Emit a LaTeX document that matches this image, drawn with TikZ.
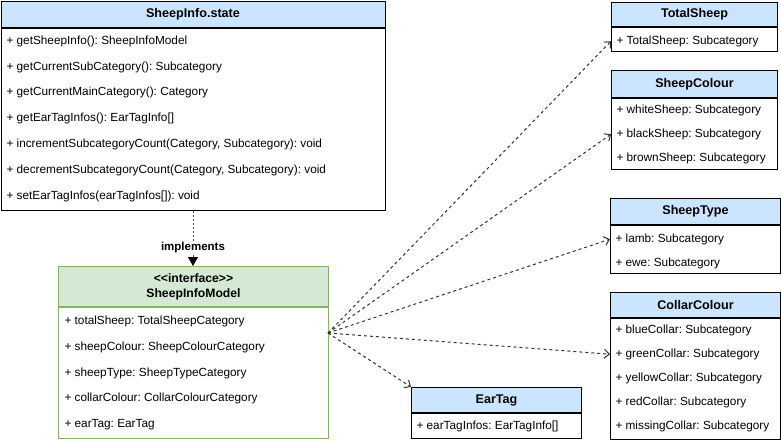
\documentclass[tikz,border=0pt]{standalone}
\usepackage{fontspec}
\setmainfont{Liberation Sans}
\usetikzlibrary{arrows.meta}
\definecolor{headblue}{HTML}{CCE5FF}
\definecolor{headgreen}{HTML}{D5E8D4}
\definecolor{edgegreen}{HTML}{82B366}
\tikzset{
  head/.style={draw, fill=headblue, anchor=north west, inner sep=0pt, font=\bfseries\fontsize{12.6}{15}\selectfont},
  body/.style={draw, anchor=north west, inner sep=0pt},
  row/.style={anchor=west, inner sep=0pt, yshift=-1.2pt, font=\frenchspacing\fontsize{11.8}{14}\selectfont},
  dep/.style={draw=black!80, dash pattern=on 3pt off 3pt, >={Straight Barb[length=5pt,width=9pt]}},
  impl/.style={draw=black!70, dash pattern=on 2pt off 2pt, >={Triangle[length=9pt,width=10pt,color=black]}}
}
\begin{document}
\begin{tikzpicture}[x=1pt, y=-1pt, line width=1pt]
\useasboundingbox (0,0) rectangle (781,440);
% SheepInfo.state
\node[head, fill=headblue, minimum width=384pt, minimum height=26pt] (statehead) at (0.5,0.5) {SheepInfo.state};
\node[body, minimum width=384pt, minimum height=182pt] (statebody) at (statehead.south west) {};
\node[row] (state1) at (6,40) {+ getSheepInfo(): SheepInfoModel};
\node[row] (state2) at (6,66) {+ getCurrentSubCategory(): Subcategory};
\node[row] (state3) at (6,91) {+ getCurrentMainCategory(): Category};
\node[row] (state4) at (6,117) {+ getEarTagInfos(): EarTagInfo[]};
\node[row] (state5) at (6,143) {+ incrementSubcategoryCount(Category, Subcategory): void};
\node[row] (state6) at (6,169) {+ decrementSubcategoryCount(Category, Subcategory): void};
\node[row] (state7) at (6,195) {+ setEarTagInfos(earTagInfos[]): void};
% SheepInfoModel
\node[head, draw=edgegreen, fill=headgreen, minimum width=270pt, minimum height=40pt, align=center, font=\bfseries\fontsize{12.2}{15}\selectfont] (modelhead) at (58,266) {<{}<interface>{}>\\SheepInfoModel};
\node[body, draw=edgegreen, minimum width=270pt, minimum height=131pt] (modelbody) at (modelhead.south west) {};
\node[row] (model1) at (64,320) {+ totalSheep: TotalSheepCategory};
\node[row] (model2) at (64,346) {+ sheepColour: SheepColourCategory};
\node[row] (model3) at (64,372) {+ sheepType: SheepTypeCategory};
\node[row] (model4) at (64,397) {+ collarColour: CollarColourCategory};
\node[row] (model5) at (64,423) {+ earTag: EarTag};
% TotalSheep
\node[head, minimum width=166pt, minimum height=24pt] (tshead) at (611,2) {TotalSheep};
\node[body, minimum width=166pt, minimum height=24pt] (tsbody) at (tshead.south west) {};
\node[row] (ts1) at (616,40) {+ TotalSheep: Subcategory};
% SheepColour
\node[head, minimum width=166pt, minimum height=27pt] (schead) at (611,70) {SheepColour};
\node[body, minimum width=166pt, minimum height=71pt] (scbody) at (schead.south west) {};
\node[row] (sc1) at (616,109) {+ whiteSheep: Subcategory};
\node[row] (sc2) at (616,133) {+ blackSheep: Subcategory};
\node[row] (sc3) at (616,157) {+ brownSheep: Subcategory};
% SheepType
\node[head, minimum width=170pt, minimum height=26pt] (sthead) at (610,198) {SheepType};
\node[body, minimum width=170pt, minimum height=48pt] (stbody) at (sthead.south west) {};
\node[row] (st1) at (615,238) {+ lamb: Subcategory};
\node[row] (st2) at (615,262) {+ ewe: Subcategory};
% CollarColour
\node[head, minimum width=170pt, minimum height=25pt] (cchead) at (610,292) {CollarColour};
\node[body, minimum width=170pt, minimum height=121pt] (ccbody) at (cchead.south west) {};
\node[row] (cc1) at (615,329) {+ blueCollar: Subcategory};
\node[row] (cc2) at (615,353) {+ greenCollar: Subcategory};
\node[row] (cc3) at (615,377) {+ yellowCollar: Subcategory};
\node[row] (cc4) at (615,401) {+ redCollar: Subcategory};
\node[row] (cc5) at (615,425) {+ missingCollar: Subcategory};
% EarTag
\node[head, minimum width=170pt, minimum height=25pt] (ethead) at (411,387) {EarTag};
\node[body, minimum width=170pt, minimum height=25pt] (etbody) at (ethead.south west) {};
\node[row] (et1) at (416,425) {+ earTagInfos: EarTagInfo[]};
% connectors
\draw[impl, ->] (statebody.south) -- node[pos=0.67, fill=white, inner sep=1pt, font=\bfseries\fontsize{11.5}{13}\selectfont, text=black] {implements} (statebody.south |- modelhead.north);
\coordinate (hub) at (328,333);
\draw[dep, ->] (hub) -- (tsbody.west |- ts1);
\draw[dep, ->] (hub) -- (scbody.west |- sc2);
\draw[dep, ->] (hub) -- (stbody.west |- st1);
\draw[dep, ->] (hub) -- (ccbody.west |- cc2);
\draw[dep, ->] (hub) -- (ethead.north west);
\end{tikzpicture}
\end{document}
